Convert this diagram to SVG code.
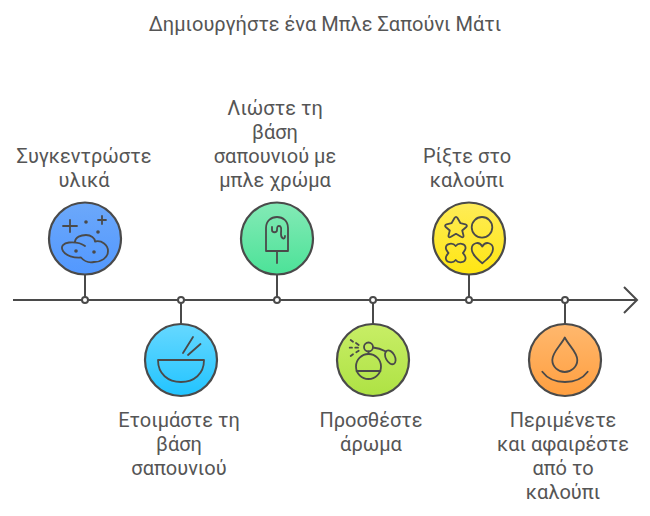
<svg xmlns="http://www.w3.org/2000/svg" width="650" height="516" viewBox="0 0 650 516">
<defs>
<linearGradient id="g1" x1="0" y1="0" x2="0" y2="1"><stop offset="0" stop-color="#6ca8fa"/><stop offset="1" stop-color="#5298ff"/></linearGradient>
<linearGradient id="g2" x1="0" y1="0" x2="0" y2="1"><stop offset="0" stop-color="#66d8ff"/><stop offset="1" stop-color="#22c4ff"/></linearGradient>
<linearGradient id="g3" x1="0" y1="0" x2="0" y2="1"><stop offset="0" stop-color="#84eab6"/><stop offset="1" stop-color="#4ce298"/></linearGradient>
<linearGradient id="g4" x1="0" y1="0" x2="0" y2="1"><stop offset="0" stop-color="#c8ee66"/><stop offset="1" stop-color="#aee244"/></linearGradient>
<linearGradient id="g5" x1="0" y1="0" x2="0" y2="1"><stop offset="0" stop-color="#feec58"/><stop offset="1" stop-color="#ffe612"/></linearGradient>
<linearGradient id="g6" x1="0" y1="0" x2="0" y2="1"><stop offset="0" stop-color="#ffb86e"/><stop offset="1" stop-color="#ff9f40"/></linearGradient>
</defs>
<style>
text{font-family:Roboto,"Liberation Sans",sans-serif;fill:#555;text-anchor:middle;font-size:20px}
.c{stroke:#4a4a4a;stroke-width:2.2}
.i{fill:none;stroke:#4a4a4a;stroke-width:1.8;stroke-linecap:round;stroke-linejoin:round}
.d{fill:#4a4a4a}
.l{fill:none;stroke:#4a4a4a;stroke-width:2}
.dot{fill:#fff;stroke:#4a4a4a;stroke-width:2}
</style>
<text x="325" y="31">Δημιουργήστε ένα Μπλε Σαπούνι Μάτι</text>
<g id="connectors">
<path class="l" d="M13 300H637"/>
<path class="l" d="M624 287L637 300L624 313"/>
<path class="l" d="M85 274V300M181 300V324M277 274V300M373 300V324M469 274V300M565 300V324"/>
</g>
<g id="node1">
<circle class="c" cx="85" cy="238.500" r="36" fill="url(#g1)"/>
<path class="i" d="M63 226H77M70 220V232M98 220H106M102 216V224"/>
<circle class="d" cx="86" cy="222" r="1.800"/><circle class="d" cx="98" cy="232" r="1.800"/><circle class="d" cx="76" cy="251" r="1.800"/><circle class="d" cx="94" cy="252" r="1.800"/>
<path class="i" d="M75 242C75 237 81 235 86 235C91 235 95 238 95 241.500C102 240 108 245 108 251C108 258 101 262 94 262C89 263 84 261 81 257.500C74 258 66 256 63 251C60 246 64 243 69 242.500C75 242 81 243 85 246"/>
</g>
<g id="node2">
<circle class="c" cx="181" cy="360" r="36" fill="url(#g2)"/>
<path class="i" stroke-width="2" d="M158 360H204C204 374 194 382 181 382C168 382 158 374 158 360ZM183 353L193 337M188 355L200.500 344"/>
</g>
<g id="node3">
<circle class="c" cx="277" cy="238.500" r="36" fill="url(#g3)"/>
<path class="i" d="M266 251V228C266 221 271 217 277 217C283 217 288 221 288 228V251ZM277 251V263M272 227V230C272 233 277 233 277 230C277 226 278 226 279 226C282 226 281 230 281 234C281 239 285 240 285 236"/>
</g>
<g id="node4">
<circle class="c" cx="373" cy="360" r="36" fill="url(#g4)"/>
<circle class="i" cx="368.500" cy="366.500" r="12.500"/>
<path class="i" d="M356.500 371H380.500"/>
<circle class="i" cx="368.500" cy="347" r="4.500"/>
<path class="i" d="M368.500 351.500V354M373 347.500C378 348 382 349.500 386 351.500"/>
<ellipse class="i" cx="390.300" cy="357.300" rx="4.500" ry="7.500" transform="rotate(-28 390.300 357.300)"/>
<path class="i" d="M350.700 340L353 341.700M356 343L358.700 345M349.700 347.700H352M355.300 347.700H358M350.700 356L353 354.300M356.300 352.300L358.700 350.700"/>
</g>
<g id="node5">
<circle class="c" cx="469" cy="238.500" r="36" fill="url(#g5)"/>
<circle class="i" cx="482" cy="227.300" r="10.300"/>
<path class="i" d="M454.500 218C455.500 216.500 456.500 216.500 457.500 218L460.500 223.200L465.500 224.300C467 224.800 467.300 226 466.300 227L462.200 230.500L463.500 235.500C463.800 237 462.800 237.700 461.500 237L456 233.800L450.500 237C449.200 237.700 448.200 237 448.500 235.500L449.800 230.500L445.700 227C444.700 226 445 224.800 446.500 224.300L451.500 223.200Z"/>
<path class="i" d="M482.300 263.300C476 258 471.700 254 471.700 249C471.700 243 479 240.500 482.300 246.500C485.600 240.500 493 243 493 249C493 254 488.600 258 482.300 263.300Z"/>
<path class="i" d="M455.700 246C453 242.500 446 243 445.800 248C445.700 250 447.500 251.500 448.500 253C447.500 254.500 445.700 256 445.800 258C446 263 453 263.500 455.700 260C458.400 263.500 465.400 263 465.600 258C465.700 256 463.900 254.500 462.900 253C463.900 251.500 465.700 250 465.600 248C465.400 243 458.400 242.500 455.700 246Z"/>
</g>
<g id="node6">
<circle class="c" cx="565" cy="360" r="36" fill="url(#g6)"/>
<path class="i" stroke-width="2" d="M564.800 337.500C569 346 577.300 352 577.300 360C577.300 367 571 372 564.800 372C558.500 372 552.300 367 552.300 360C552.300 352 560.500 346 564.800 337.500ZM542.300 371.700C547 378 555 382 565 382C575 382 583 378 587.700 371.700"/>
</g>
<g id="labels">
<text x="84" y="163">Συγκεντρώστε</text>
<text x="84" y="187">υλικά</text>
<text x="179" y="427">Ετοιμάστε τη</text>
<text x="179" y="451">βάση</text>
<text x="179" y="475">σαπουνιού</text>
<text x="275" y="115">Λιώστε τη</text>
<text x="275" y="139">βάση</text>
<text x="275" y="163">σαπουνιού με</text>
<text x="275" y="187">μπλε χρώμα</text>
<text x="371" y="427">Προσθέστε</text>
<text x="371" y="451">άρωμα</text>
<text x="467" y="163">Ρίξτε στο</text>
<text x="467" y="187">καλούπι</text>
<text x="563" y="427">Περιμένετε</text>
<text x="563" y="451">και αφαιρέστε</text>
<text x="563" y="475">από το</text>
<text x="563" y="499">καλούπι</text>
</g>
<g id="dots">
<circle class="dot" cx="85" cy="300" r="3"/><circle class="dot" cx="181" cy="300" r="3"/><circle class="dot" cx="277" cy="300" r="3"/><circle class="dot" cx="373" cy="300" r="3"/><circle class="dot" cx="469" cy="300" r="3"/><circle class="dot" cx="565" cy="300" r="3"/>
</g>
</svg>
